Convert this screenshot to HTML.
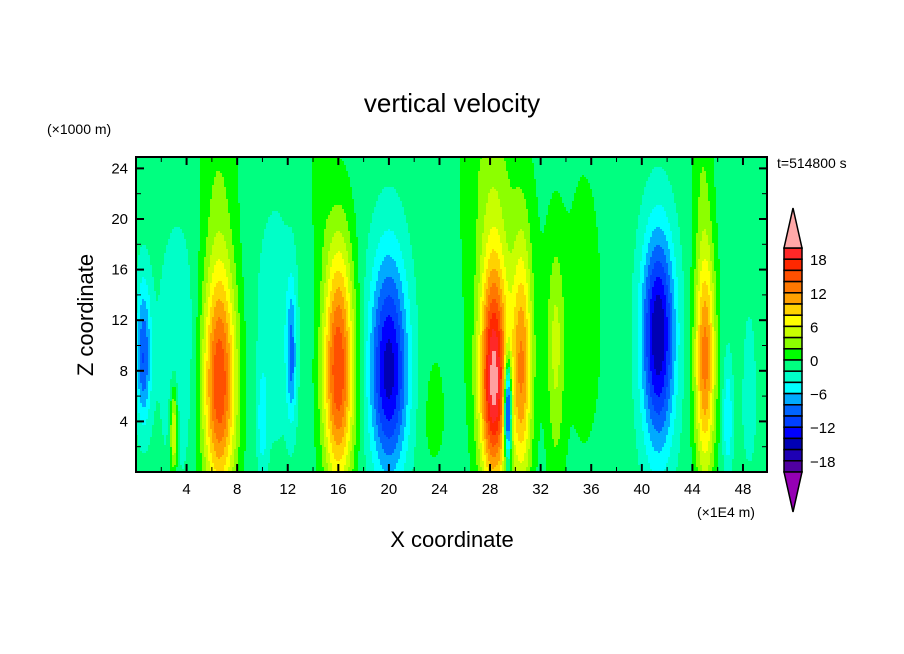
<!DOCTYPE html>
<html><head><meta charset="utf-8"><style>
body{margin:0;background:#fff;}
svg{display:block;font-family:"Liberation Sans","DejaVu Sans",sans-serif;}
</style></head><body>
<svg id="chart" width="904" height="654" viewBox="0 0 904 654" xmlns="http://www.w3.org/2000/svg">
<rect width="904" height="654" fill="#fff"/>
<text x="452" y="112" font-size="26" text-anchor="middle">vertical velocity</text>
<text x="47" y="134" font-size="14">(×1000 m)</text>
<text x="777" y="168" font-size="14">t=514800 s</text>
<text x="93" y="315" font-size="22" text-anchor="middle" transform="rotate(-90 93 315)">Z coordinate</text>
<text x="452" y="547" font-size="22" text-anchor="middle">X coordinate</text>
<text x="697" y="517" font-size="14">(×1E4 m)</text>
<g id="field"></g>
<g id="axes"></g>
<g id="cbar"></g>
</svg>
<script>
// plume features: x center, amplitude, x sigma, z center, sigma below, sigma above
const plumeX     = [6.6, 16, 28.3, 30.5, 33.2, 45, 20, 41.3, 0.6, 29.4, 3.3, 3.0, 12.3, 11, 10, 46.8, 48.5, 6.5, 14.5, 28, 44.8, 29, 35.5, 23.5];
const plumeAmp   = [17, 17, 21, 12, 5, 14, -14, -15, -9, -20, -3, 9, -7, -2.5, -4, -5, -3, 2, 2.2, 2.2, 2.2, 1.6, 1.8, 1.5];
const plumeWidth = [1.3, 1.2, 1.1, 0.8, 0.7, 0.8, 1.5, 1.3, 0.6, 0.3, 1.5, 0.3, 0.4, 1.5, 0.4, 0.4, 0.5, 1.5, 0.7, 2, 0.8, 4, 1.6, 1.0];
const plumeZc    = [7, 8, 7, 8, 10, 9, 8, 11, 9, 5, 10, 3, 9, 12, 4, 4, 5, 24, 24, 24, 24, 14, 12, 4];
const plumeBelow = [9, 9, 8, 9, 10, 9, 8, 9, 5, 4, 10, 3, 5, 10, 4, 4, 4, 6, 6, 6, 6, 14, 12, 4];
const plumeAbove = [10, 10, 10, 10, 8, 9, 9, 8, 6, 4, 9, 4, 6, 9, 4, 5, 7, 5, 5, 5, 5, 14, 14, 6];
const background = -1;
const levelColors = ["#5000a0","#1e00b4","#0000b4","#0000ff","#0040ff","#0064ff","#00aaff","#00ffff","#00ffc8","#00ff80","#00ff00","#8cff00","#c8ff00","#ffff00","#ffd200","#ffa000","#ff7800","#ff5000","#ff2800","#ff2828"];
const cbarLabels = [18, 12, 6, 0, -6, -12, -18];
const xTicks = [4, 8, 12, 16, 20, 24, 28, 32, 36, 40, 44, 48];
const zTicks = [4, 8, 12, 16, 20, 24];

const NS = "http://www.w3.org/2000/svg";
const L = 136, R = 767, T = 157, B = 472;
const XMAX = 49.9, ZMAX = 24.9;
const sx = x => L + x / XMAX * (R - L);
const sz = z => B - z / ZMAX * (B - T);
function field(x, z) {
  let v = background;
  for (let i = 0; i < plumeX.length; i++) {
    const dx = (x - plumeX[i]) / plumeWidth[i];
    const s = z < plumeZc[i] ? plumeBelow[i] : plumeAbove[i];
    const dz = (z - plumeZc[i]) / s;
    v += plumeAmp[i] * Math.exp(-dx * dx - dz * dz);
  }
  return v;
}
function colorOf(v) {
  if (v >= 20) return "#ffa0a0";
  if (v < -20) return "#9600b4";
  return levelColors[Math.floor((v + 20) / 2)];
}
const fg = document.getElementById("field");
const cw = 2, ch = 2;
function addRun(x0, x1, y, h, c) {
  const r = document.createElementNS(NS, "rect");
  
  
  r.setAttribute("x", x0); r.setAttribute("y", y);
  r.setAttribute("width", x1 - x0); r.setAttribute("height", h);
  r.setAttribute("fill", c);
  fg.appendChild(r);
}
for (let py = T; py < B; py += ch) {
  const z = (B - (py + ch / 2)) / (B - T) * ZMAX;
  const h = Math.min(ch, B - py);
  let runStart = L, runColor = null;
  for (let px = L; px < R; px += cw) {
    const c = colorOf(field((px + cw / 2 - L) / (R - L) * XMAX, z));
    if (c !== runColor) {
      if (runColor) addRun(runStart, px, py, h, runColor);
      runStart = px; runColor = c;
    }
  }
  if (runColor) addRun(runStart, R, py, h, runColor);
}
const ax = document.getElementById("axes");
function line(x1, y1, x2, y2, w, name) {
  const l = document.createElementNS(NS, "line");
  
  
  l.setAttribute("x1", x1); l.setAttribute("y1", y1); l.setAttribute("x2", x2); l.setAttribute("y2", y2);
  l.setAttribute("stroke", "#000"); l.setAttribute("stroke-width", w);
  ax.appendChild(l);
}
function text(x, y, s, anchor, name, size) {
  const t = document.createElementNS(NS, "text");
  
  
  t.setAttribute("x", x); t.setAttribute("y", y); t.setAttribute("text-anchor", anchor);
  t.setAttribute("font-size", size || 15);
  t.textContent = s;
  return t;
}
const frame = document.createElementNS(NS, "rect");


frame.setAttribute("x", L); frame.setAttribute("y", T); frame.setAttribute("width", R - L); frame.setAttribute("height", B - T);
frame.setAttribute("fill", "none"); frame.setAttribute("stroke", "#000"); frame.setAttribute("stroke-width", 2);
ax.appendChild(frame);
for (let x = 2; x < XMAX; x += 2) {
  const major = x % 4 === 0, len = major ? 8 : 5, w = major ? 2 : 1;
  line(sx(x), B, sx(x), B - len, w, "x-tick");
  line(sx(x), T, sx(x), T + len, w, "x-tick-top");
}
for (let z = 2; z < ZMAX; z += 2) {
  const major = z % 4 === 0, len = major ? 8 : 5, w = major ? 2 : 1;
  line(L, sz(z), L + len, sz(z), w, "y-tick");
  line(R, sz(z), R - len, sz(z), w, "y-tick-right");
}
xTicks.forEach(x => ax.appendChild(text(sx(x), B + 22, String(x), "middle", "x-tick-label")));
zTicks.forEach(z => ax.appendChild(text(L - 8, sz(z) + 5, String(z), "end", "y-tick-label")));
// colorbar
const cb = document.getElementById("cbar");
const cbL = 784, cbW = 18, cbTop = 248, bandH = 11.2;
levelColors.slice().reverse().forEach((c, i) => {
  const r = document.createElementNS(NS, "rect");
  
  
  r.setAttribute("x", cbL); r.setAttribute("y", cbTop + i * bandH);
  r.setAttribute("width", cbW); r.setAttribute("height", bandH);
  r.setAttribute("fill", c); r.setAttribute("stroke", "#000"); r.setAttribute("stroke-width", 1.5);
  cb.appendChild(r);
});
const cbBot = cbTop + levelColors.length * bandH;
const tri1 = document.createElementNS(NS, "polygon");


tri1.setAttribute("points", `${cbL},${cbTop} ${cbL + cbW},${cbTop} ${cbL + cbW / 2},${cbTop - 40}`);
tri1.setAttribute("fill", "#ffa8a8"); tri1.setAttribute("stroke", "#000"); tri1.setAttribute("stroke-width", 1.5);
cb.appendChild(tri1);
const tri2 = document.createElementNS(NS, "polygon");


tri2.setAttribute("points", `${cbL},${cbBot} ${cbL + cbW},${cbBot} ${cbL + cbW / 2},${cbBot + 40}`);
tri2.setAttribute("fill", "#9600b4"); tri2.setAttribute("stroke", "#000"); tri2.setAttribute("stroke-width", 1.5);
cb.appendChild(tri2);
cbarLabels.forEach(v => {
  const y = cbTop + (20 - v) / 2 * bandH;
  cb.appendChild(text(cbL + cbW + 8, y + 6, v < 0 ? "\u2212" + (-v) : String(v), "start", "colorbar-label"));
});
</script>
</body></html>
